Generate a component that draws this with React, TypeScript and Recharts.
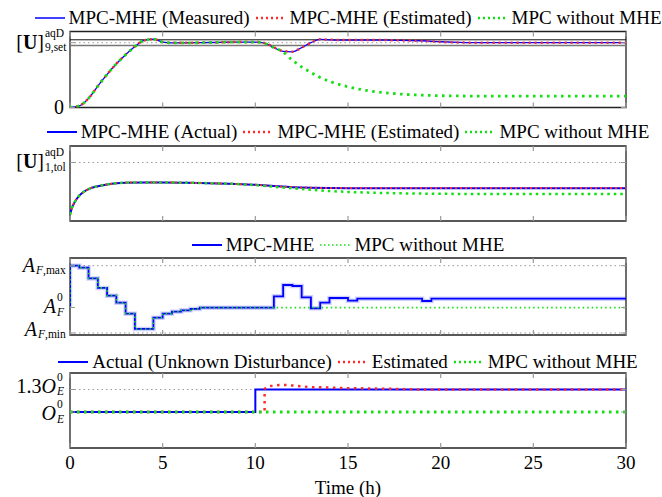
import React from 'react';
import { LineChart, Line, XAxis, YAxis, ReferenceLine, ReferenceArea, Legend } from 'recharts';

const FONT = '"Liberation Serif", "Times New Roman", "DejaVu Serif", serif';
const BLUE = '#0000ff';
const RED = '#ff2a2a';
const GREEN = '#11e011';
const GRID = '#9a9a9a';

const timeTicks = [0, 5, 10, 15, 20, 25, 30];

// panel 1: [U]aqD 9 (setpoint = 1)
const setTime = [0, 0.5, 1, 1.5, 2, 2.5, 3, 3.5, 4, 4.5, 5, 5.5, 6, 7, 8, 9, 10, 10.5, 11, 11.5, 12, 12.5, 13, 13.5, 14, 15, 16, 17, 18, 19, 20, 21, 22, 24, 26, 28, 30];
const setMeasured = [0, 0.025, 0.14, 0.33, 0.51, 0.675, 0.815, 0.94, 1.035, 1.055, 1.01, 0.998, 0.998, 1.0, 1.005, 1.01, 1.01, 0.995, 0.925, 0.865, 0.86, 0.925, 1.0, 1.05, 1.045, 1.04, 1.04, 1.04, 1.035, 1.03, 1.015, 1.005, 1.0, 1.0, 1.0, 1.0, 1.0];
const setEstimated = [0, 0.025, 0.14, 0.33, 0.51, 0.675, 0.815, 0.94, 1.035, 1.055, 1.01, 0.998, 0.998, 1.0, 1.005, 1.01, 1.01, 0.995, 0.93, 0.87, 0.862, 0.925, 1.0, 1.052, 1.045, 1.042, 1.04, 1.04, 1.035, 1.028, 1.012, 1.003, 1.0, 1.0, 1.0, 1.0, 1.0];
const setNoMhe = [0, 0.025, 0.14, 0.33, 0.51, 0.675, 0.815, 0.94, 1.035, 1.055, 1.01, 0.998, 0.998, 1.0, 1.005, 1.01, 1.01, 0.99, 0.925, 0.855, 0.73, 0.625, 0.54, 0.464, 0.405, 0.32, 0.263, 0.228, 0.204, 0.19, 0.182, 0.178, 0.176, 0.175, 0.175, 0.175, 0.175];
const setBand = [0.957, 1.0, 1.045];

// panel 2: [U]aqD 1 (tolerance = 1)
const tolTime = [0, 0.1, 0.25, 0.5, 0.75, 1, 1.5, 2, 2.5, 3, 4, 5, 6, 7, 8, 9, 10, 11, 12, 13, 14, 15, 16, 18, 20, 22, 25, 30];
const tolActual = [0.11, 0.22, 0.32, 0.435, 0.5, 0.545, 0.595, 0.625, 0.645, 0.655, 0.66, 0.658, 0.655, 0.65, 0.642, 0.632, 0.618, 0.597, 0.578, 0.567, 0.562, 0.56, 0.56, 0.56, 0.56, 0.56, 0.56, 0.56];
const tolEstimated = [0.11, 0.22, 0.32, 0.435, 0.5, 0.545, 0.595, 0.625, 0.645, 0.655, 0.66, 0.658, 0.655, 0.65, 0.642, 0.632, 0.618, 0.598, 0.58, 0.569, 0.564, 0.562, 0.562, 0.562, 0.562, 0.562, 0.562, 0.562];
const tolNoMhe = [0.11, 0.22, 0.32, 0.435, 0.5, 0.545, 0.595, 0.625, 0.645, 0.655, 0.66, 0.658, 0.655, 0.65, 0.642, 0.632, 0.612, 0.585, 0.56, 0.535, 0.513, 0.497, 0.486, 0.472, 0.465, 0.462, 0.46, 0.46];

// panel 3: feed area (min = 0, max = 1)
const areaA0 = 0.379;
const areaTime = [0, 0, 0.5, 1, 1.5, 2, 2.5, 3, 3.5, 4.5, 5, 5.5, 6, 6.5, 7, 11, 11.5, 12, 12.5, 13, 13.5, 14, 15, 15.5, 19, 19.5, 30];
const areaMhe = [0.379, 1.0, 0.97, 0.81, 0.67, 0.555, 0.45, 0.287, 0.06, 0.227, 0.287, 0.316, 0.337, 0.357, 0.376, 0.545, 0.713, 0.698, 0.53, 0.367, 0.45, 0.52, 0.48, 0.51, 0.475, 0.51, 0.51];
const areaNoMheTime = [0, 0, 0.5, 1, 1.5, 2, 2.5, 3, 3.5, 4.5, 5, 5.5, 6, 6.5, 7, 30];
const areaNoMhe = [0.379, 1.0, 0.97, 0.81, 0.67, 0.555, 0.45, 0.287, 0.06, 0.227, 0.287, 0.316, 0.337, 0.357, 0.376, 0.376];

// panel 4: O_E disturbance (nominal = 1)
const distTime = [0, 10, 30];
const distActual = [1, 1.3, 1.3];
const estTime = [0, 10.5, 10.5, 10.7, 11, 11.3, 11.6, 11.9, 12.2, 12.5, 12.8, 13.1, 13.5, 14, 14.5, 15.5, 16.5, 17.7, 19, 30];
const distEstimated = [1, 1, 1.307, 1.343, 1.35, 1.36, 1.36, 1.355, 1.35, 1.343, 1.335, 1.33, 1.33, 1.327, 1.32, 1.316, 1.312, 1.307, 1.3, 1.3];
const nomTime = [0, 30];
const distNoMhe = [1, 1];

const pts = (t: number[], v: number[]) => t.map((x, i) => ({ t: x, v: v[i] }));

const PLOT_LEFT = 70;
const PLOT_RIGHT = 626;
const PLOT_W = PLOT_RIGHT - PLOT_LEFT;

type LabelSpec = { value: number; main: React.ReactNode; sup?: React.ReactNode; sub?: React.ReactNode; sw?: number; dy?: number };
type LegendSpec = { label: string; color: string; dash?: string; width: number };

function TimeTick(props: any) {
  const { x, y, payload, plotH, showLabel } = props;
  return (
    <g>
      <line x1={x} x2={x} y1={y} y2={y - 5} stroke={GRID} strokeWidth={1.2} />
      <line x1={x} x2={x} y1={y - plotH} y2={y - plotH + 5} stroke={GRID} strokeWidth={1.2} />
      {showLabel && (
        <text x={x} y={y + 21} textAnchor="middle" fontFamily={FONT} fontSize={19} fill="#000">
          {payload.value}
        </text>
      )}
    </g>
  );
}

function ValueTick(props: any) {
  const { x, y, payload, labels } = props;
  const spec: LabelSpec | undefined = labels.find((l: LabelSpec) => Math.abs(l.value - payload.value) < 1e-6);
  if (!spec) return null;
  const cy = y + (spec.dy || 0);
  const mainEnd = x - 6 - (spec.sw || 0);
  return (
    <g fontFamily={FONT} fill="#000">
      <line x1={x} x2={x + 5} y1={y} y2={y} stroke={GRID} />
      <line x1={x + PLOT_W - 5} x2={x + PLOT_W} y1={y} y2={y} stroke={GRID} />
      <text x={mainEnd} y={cy + 6} textAnchor="end" fontSize={20}>
        {spec.main}
      </text>
      {spec.sup && (
        <text x={mainEnd + 1} y={cy - 6} fontSize={11.5}>
          {spec.sup}
        </text>
      )}
      {spec.sub && (
        <text x={mainEnd + 1} y={cy + 8.5} fontSize={11.5}>
          {spec.sub}
        </text>
      )}
    </g>
  );
}

function LegendRow({ items }: { items: LegendSpec[] }) {
  return (
    <div
      style={{
        display: 'flex',
        justifyContent: 'center',
        alignItems: 'center',
        gap: 6,
        whiteSpace: 'nowrap',
        fontFamily: FONT,
        fontSize: 19,
        lineHeight: '20px',
        color: '#000',
      }}
    >
      {items.map((it) => (
        <span key={it.label} style={{ display: 'inline-flex', alignItems: 'center', gap: 4 }}>
          <svg width={30} height={10}>
            <line x1={0} x2={30} y1={5} y2={5} stroke={it.color} strokeWidth={it.width} strokeDasharray={it.dash} />
          </svg>
          <span>{it.label}</span>
        </span>
      ))}
    </div>
  );
}

function Panel({
  top,
  bottom,
  domain,
  labels,
  legend,
  legendTop,
  showTime,
  children,
}: {
  top: number;
  bottom: number;
  domain: [number, number];
  labels: LabelSpec[];
  legend: LegendSpec[];
  legendTop: number;
  showTime?: boolean;
  children: React.ReactNode;
}) {
  const plotH = bottom - top;
  return (
    <div style={{ position: 'absolute', left: 0, top: 0 }}>
      <LineChart width={662} height={497} margin={{ top, right: 662 - PLOT_RIGHT, left: 0, bottom: 497 - bottom - 49 }}>
        <XAxis
          type="number"
          dataKey="t"
          domain={[0, 30]}
          ticks={timeTicks}
          interval={0}
          height={49}
          axisLine={false}
          tickLine={false}
          tickSize={0}
          tickMargin={0}
          allowDataOverflow
          tick={(p: any) => <TimeTick {...p} plotH={plotH} showLabel={showTime} />}
          label={
            showTime
              ? { value: 'Time (h)', position: 'insideBottom', offset: 3, fontFamily: FONT, fontSize: 19, fill: '#000' }
              : undefined
          }
        />
        <YAxis
          type="number"
          domain={domain}
          ticks={labels.map((l) => l.value)}
          interval={0}
          width={PLOT_LEFT}
          axisLine={false}
          tickLine={false}
          tickSize={0}
          tickMargin={0}
          allowDataOverflow
          tick={(p: any) => <ValueTick {...p} labels={labels} />}
        />
        <Legend
          layout="horizontal"
          verticalAlign="middle"
          align="center"
          wrapperStyle={{ top: legendTop, left: PLOT_LEFT, width: PLOT_W, height: 20 }}
          content={() => <LegendRow items={legend} />}
        />
        {children}
        <ReferenceArea
          x1={0}
          x2={30}
          y1={domain[0]}
          y2={domain[1]}
          fill="none"
          stroke="#222"
          strokeWidth={1.3}
          ifOverflow="visible"
        />
      </LineChart>
    </div>
  );
}

const bracketU = (
  <>
    <tspan>[</tspan>
    <tspan fontWeight="bold">U</tspan>
    <tspan>]</tspan>
  </>
);
const italic = (s: string) => <tspan fontStyle="italic">{s}</tspan>;

export default function App() {
  return (
    <div style={{ position: 'absolute', left: 0, top: 0, width: 662, height: 497, background: '#fff' }}>
      <Panel
        top={31.5}
        bottom={107.5}
        domain={[0, 1.173]}
        legendTop={8}
        labels={[
          { value: 0, main: '0' },
          { value: 1, main: bracketU, sup: 'aqD', sub: '9,set', sw: 20 },
        ]}
        legend={[
          { label: 'MPC-MHE (Measured)', color: BLUE, width: 1.5 },
          { label: 'MPC-MHE (Estimated)', color: RED, dash: '2 3', width: 2.5 },
          { label: 'MPC without MHE', color: GREEN, dash: '2 3', width: 2.5 },
        ]}
      >
        <ReferenceLine y={setBand[2]} stroke="#111" strokeWidth={1} />
        <ReferenceLine y={setBand[1]} stroke={GRID} strokeDasharray="1.5 3" />
        <ReferenceLine y={setBand[0]} stroke="#777" strokeWidth={1.6} />
        <Line data={pts(setTime, setMeasured)} dataKey="v" type="monotone" stroke={BLUE} strokeWidth={1.3} dot={false} activeDot={false} isAnimationActive={false} />
        <Line data={pts(setTime, setEstimated)} dataKey="v" type="monotone" stroke={RED} strokeWidth={2.5} strokeDasharray="2 4" dot={false} activeDot={false} isAnimationActive={false} />
        <Line data={pts(setTime, setNoMhe)} dataKey="v" type="monotone" stroke={GREEN} strokeWidth={2.8} strokeDasharray="2.5 4.5" dot={false} activeDot={false} isAnimationActive={false} />
      </Panel>

      <Panel
        top={146}
        bottom={221}
        domain={[0, 1.282]}
        legendTop={122}
        labels={[{ value: 1, main: bracketU, sup: 'aqD', sub: '1,tol', sw: 20 }]}
        legend={[
          { label: 'MPC-MHE (Actual)', color: BLUE, width: 2 },
          { label: 'MPC-MHE (Estimated)', color: RED, dash: '2 3', width: 2.5 },
          { label: 'MPC without MHE', color: GREEN, dash: '2 3', width: 2.5 },
        ]}
      >
        <ReferenceLine y={1} stroke={GRID} strokeDasharray="1.5 3" />
        <Line data={pts(tolTime, tolActual)} dataKey="v" type="monotone" stroke={BLUE} strokeWidth={2} dot={false} activeDot={false} isAnimationActive={false} />
        <Line data={pts(tolTime, tolEstimated)} dataKey="v" type="monotone" stroke={RED} strokeWidth={2} strokeDasharray="2 3" dot={false} activeDot={false} isAnimationActive={false} />
        <Line data={pts(tolTime, tolNoMhe)} dataKey="v" type="monotone" stroke={GREEN} strokeWidth={2.5} strokeDasharray="2.5 4" dot={false} activeDot={false} isAnimationActive={false} />
      </Panel>

      <Panel
        top={258}
        bottom={335}
        domain={[-0.03, 1.114]}
        legendTop={235}
        labels={[
          { value: 1, main: italic('A'), sub: <>{italic('F')},max</>, sw: 29 },
          { value: areaA0, main: italic('A'), sup: '0', sub: italic('F'), sw: 8 },
          { value: 0, main: italic('A'), sub: <>{italic('F')},min</>, sw: 27, dy: -3 },
        ]}
        legend={[
          { label: 'MPC-MHE', color: BLUE, width: 2 },
          { label: 'MPC without MHE', color: GREEN, dash: '1.5 2.5', width: 1.5 },
        ]}
      >
        <ReferenceLine y={1} stroke={GRID} strokeDasharray="1.5 3" />
        <ReferenceLine y={0} stroke={GRID} strokeDasharray="1.5 3" />
        <Line data={pts(areaTime, areaMhe)} dataKey="v" type="stepAfter" stroke={BLUE} strokeOpacity={0.18} strokeWidth={4.5} dot={false} activeDot={false} isAnimationActive={false} />
        <Line data={pts(areaTime, areaMhe)} dataKey="v" type="stepAfter" stroke={BLUE} strokeWidth={1.8} dot={false} activeDot={false} isAnimationActive={false} />
        <Line data={pts(areaNoMheTime, areaNoMhe)} dataKey="v" type="stepAfter" stroke={GREEN} strokeWidth={1.6} strokeDasharray="1.5 3" dot={false} activeDot={false} isAnimationActive={false} />
      </Panel>

      <Panel
        top={373}
        bottom={448}
        domain={[0.52, 1.52]}
        legendTop={352}
        showTime
        labels={[
          { value: 1.3, main: <>1.3{italic('O')}</>, sup: '0', sub: italic('E'), sw: 8, dy: -3 },
          { value: 1, main: italic('O'), sup: '0', sub: italic('E'), sw: 8, dy: 2 },
        ]}
        legend={[
          { label: 'Actual (Unknown Disturbance)', color: BLUE, width: 2 },
          { label: 'Estimated', color: RED, dash: '2 3', width: 2.5 },
          { label: 'MPC without MHE', color: GREEN, dash: '2 3', width: 2.5 },
        ]}
      >
        <ReferenceLine y={1.3} stroke={GRID} strokeDasharray="1.5 3" />
        <Line data={pts(distTime, distActual)} dataKey="v" type="stepAfter" stroke={BLUE} strokeWidth={2} dot={false} activeDot={false} isAnimationActive={false} />
        <Line data={pts(estTime, distEstimated)} dataKey="v" type="linear" stroke={RED} strokeWidth={2.5} strokeDasharray="2.5 4.5" dot={false} activeDot={false} isAnimationActive={false} />
        <Line data={pts(nomTime, distNoMhe)} dataKey="v" type="linear" stroke={GREEN} strokeWidth={2.8} strokeDasharray="2.5 4.5" dot={false} activeDot={false} isAnimationActive={false} />
      </Panel>
    </div>
  );
}
